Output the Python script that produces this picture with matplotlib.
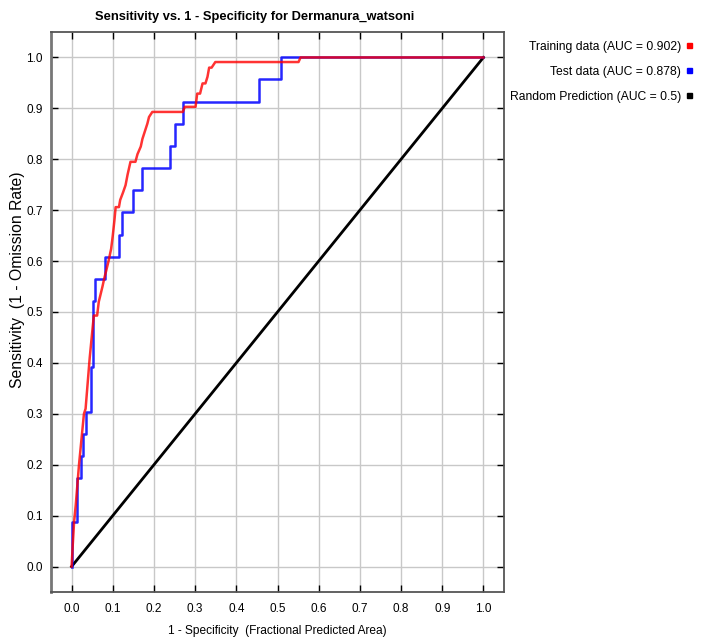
import numpy as np
import matplotlib
matplotlib.use("Agg")
import matplotlib.pyplot as plt

# ==========================================
# data
# ==========================================
train_fpr = [0.000, 0.003, 0.006, 0.010, 0.014, 0.018, 0.024, 0.030, 0.034, 0.040,
             0.044, 0.050, 0.054, 0.062, 0.066, 0.075, 0.079, 0.084, 0.090, 0.096,
             0.100, 0.104, 0.107, 0.115, 0.118, 0.125, 0.131, 0.136, 0.143, 0.155,
             0.160, 0.168, 0.172, 0.180, 0.184, 0.188, 0.196, 0.270, 0.275, 0.301,
             0.305, 0.312, 0.318, 0.325, 0.330, 0.334, 0.340, 0.349, 0.551, 0.556,
             1.000]
train_tpr = [0.000, 0.045, 0.087, 0.120, 0.160, 0.200, 0.250, 0.300, 0.310, 0.370,
             0.410, 0.460, 0.493, 0.493, 0.520, 0.550, 0.565, 0.581, 0.601, 0.624,
             0.650, 0.680, 0.706, 0.706, 0.720, 0.735, 0.749, 0.770, 0.795, 0.795,
             0.810, 0.825, 0.840, 0.860, 0.870, 0.883, 0.893, 0.893, 0.903, 0.903,
             0.929, 0.929, 0.949, 0.949, 0.962, 0.980, 0.980, 0.991, 0.991, 1.000,
             1.000]

test_fpr = [0.000, 0.000, 0.012, 0.012, 0.022, 0.022, 0.027, 0.027, 0.034, 0.034,
            0.047, 0.047, 0.052, 0.052, 0.058, 0.058, 0.082, 0.082, 0.115, 0.115,
            0.122, 0.122, 0.148, 0.148, 0.172, 0.172, 0.238, 0.238, 0.252, 0.252,
            0.271, 0.271, 0.454, 0.454, 0.509, 0.509, 1.000]
test_tpr = [0.000, 0.087, 0.087, 0.174, 0.174, 0.217, 0.217, 0.261, 0.261, 0.304,
            0.304, 0.391, 0.391, 0.522, 0.522, 0.565, 0.565, 0.609, 0.609, 0.652,
            0.652, 0.696, 0.696, 0.739, 0.739, 0.783, 0.783, 0.826, 0.826, 0.870,
            0.870, 0.913, 0.913, 0.957, 0.957, 1.000, 1.000]

random_x = [0.0, 1.0]
random_y = [0.0, 1.0]

species = "Dermanura_watsoni"
legend_labels = ["Training data (AUC = 0.902)",
                 "Test data (AUC = 0.878)",
                 "Random Prediction (AUC = 0.5)"]
legend_colors = ["#ff0000", "#0000ff", "#000000"]

plt.rcParams["font.family"] = ["Liberation Sans", "DejaVu Sans"]

W, H = 702, 644
fig = plt.figure(figsize=(W / 100, H / 100), dpi=100)
ax = fig.add_axes([51 / W, 1 - 592 / H, (504 - 51) / W, (592 - 32) / H])

ax.plot(random_x, random_y, color="#000000", lw=2.0, zorder=3)
ax.plot(test_fpr, test_tpr, color="#0000ff", lw=1.8, alpha=0.85, zorder=4)
ax.plot(train_fpr, train_tpr, color="#ff0000", lw=1.8, alpha=0.8, zorder=5)

ax.set_xlim(-0.05, 1.05)
ax.set_ylim(-0.05, 1.05)
ticks = np.round(np.arange(0, 1.01, 0.1), 1)
ax.set_xticks(ticks)
ax.set_yticks(ticks)
ax.set_xticklabels([f"{t:.1f}" for t in ticks])
ax.set_yticklabels([f"{t:.1f}" for t in ticks])
ax.tick_params(direction="in", length=5, width=1, labelsize=8.5,
               top=True, right=True, pad=6)
ax.tick_params(axis="x", pad=8)
ax.grid(True, color="#c8c8c8", lw=1.0)
ax.set_axisbelow(True)
for s in ax.spines.values():
    s.set_color("#555555")
    s.set_linewidth(1.3)
ax.spines["left"].set_color("#777777")
ax.spines["left"].set_linewidth(2.0)

ax.set_xlabel("1 - Specificity  (Fractional Predicted Area)", fontsize=8.6, labelpad=7)
ax.set_ylabel("Sensitivity  (1 - Omission Rate)", fontsize=11.3)
ax.yaxis.set_label_coords(-0.058, 0.557)

fig.text(255 / W, 1 - 17 / H, f"Sensitivity vs. 1 - Specificity for {species}",
         ha="center", va="center", fontsize=9.3, fontweight="bold")

# legend: right aligned text + small colour squares
for i, (lab, col) in enumerate(zip(legend_labels, legend_colors)):
    y = 1 - (47 + 25 * i) / H
    fig.text(681 / W, y, lab, ha="right", va="center", fontsize=8.7)
    fig.patches.append(plt.Rectangle((687 / W, y - 0.5 / H), 5 / W, 5 / H,
                                     transform=fig.transFigure, color=col))

fig.savefig("out.png", dpi=100)
